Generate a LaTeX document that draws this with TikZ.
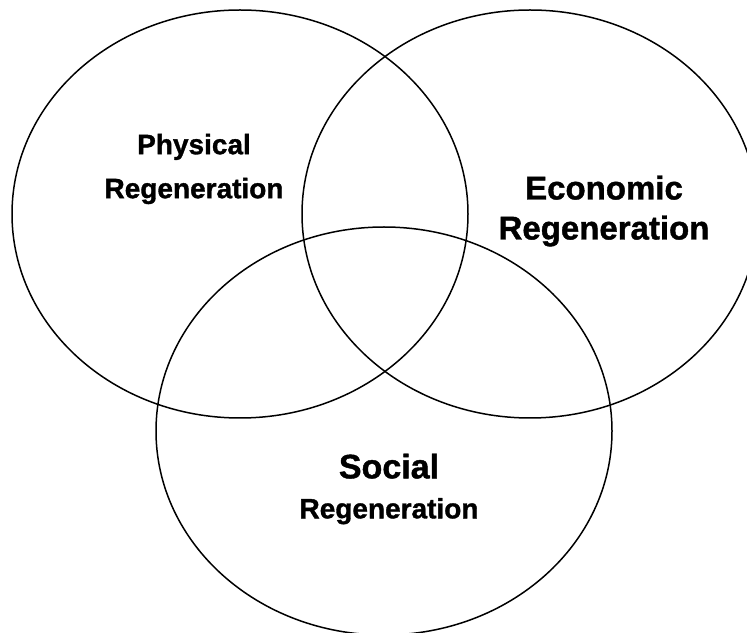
\documentclass[tikz,border=0pt]{standalone}
\usepackage{fontspec}
\setmainfont{Liberation Sans}
\newfontfamily\labelfont[FakeBold=1.2]{Liberation Sans Bold}
\usepackage{tikz}

\begin{document}
\begin{tikzpicture}[x=1pt,y=1pt]
        \tikzset{label text/.style = {align=center, font=\labelfont\fontsize{28}{44}\selectfont}}
        \useasboundingbox (0,0) rectangle (747,632);
        \clip (0,0) rectangle (747,632);
        \draw[line width=1.5pt] (240,418) ellipse [x radius=228, y radius=204];
        \draw[line width=1.5pt] (530,418) ellipse [x radius=228, y radius=204];
        \draw[line width=1.5pt] (384,201) ellipse [x radius=228, y radius=204];

        \node[label text] (physical) at (194,463) {Physical\\Regeneration};
        \node[label text, font=\labelfont\fontsize{33}{40}\selectfont] (economic) at (604,421) {Economic\\Regeneration};
        \node[label text, font=\labelfont\fontsize{28}{40}\selectfont] (social) at (389,143) {{\fontsize{34}{40}\selectfont Social}\\Regeneration};
\end{tikzpicture}
\end{document}
